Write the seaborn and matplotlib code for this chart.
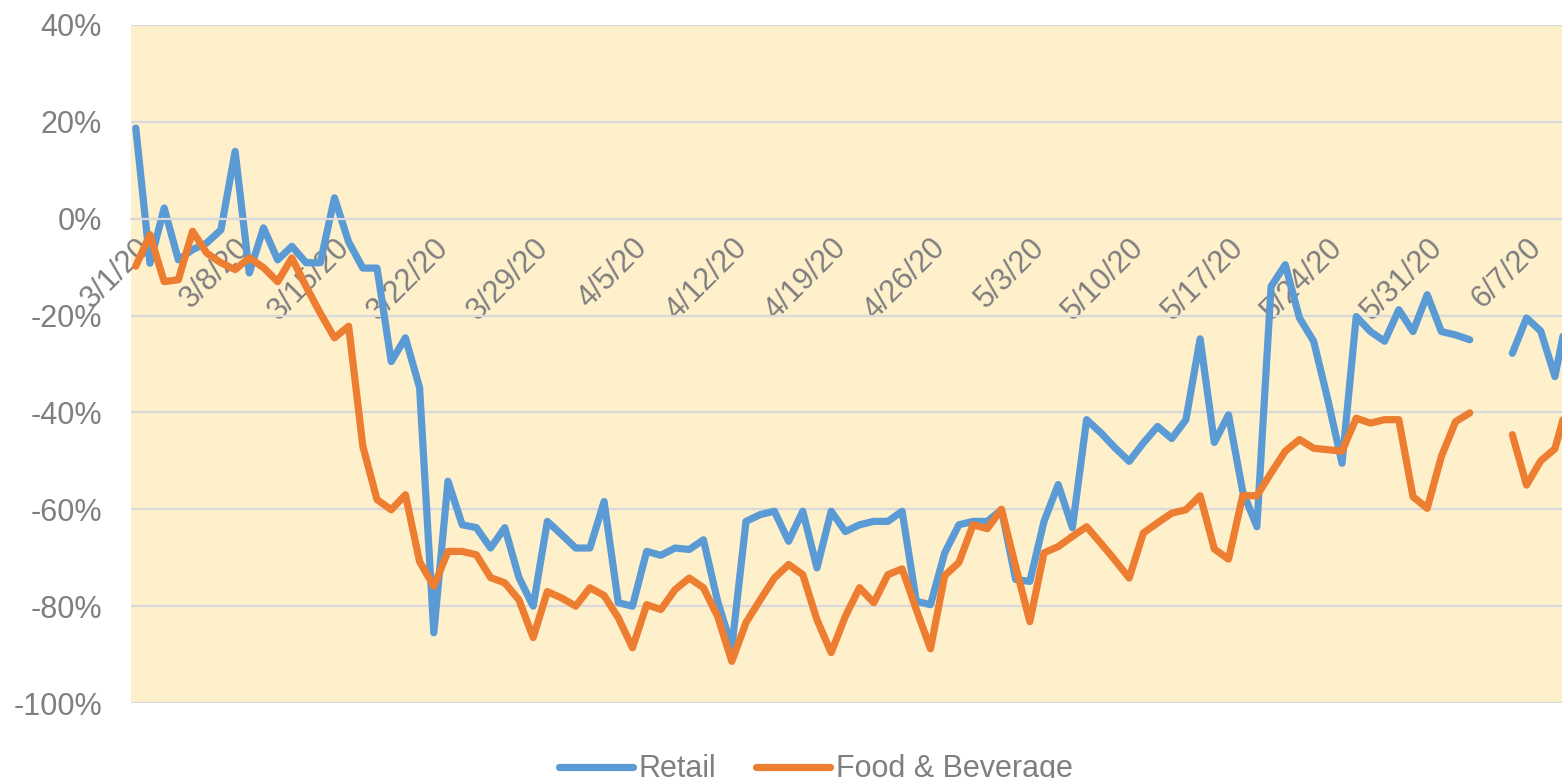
# Retail vs Food & Beverage daily change, Mar-Jun 2020

import numpy as np
import pandas as pd
import matplotlib
matplotlib.use('Agg')
import matplotlib.pyplot as plt
import seaborn as sns


# daily values (%), 3/1/20 onwards; NaN = missing days
retail = [18.7, -9.2, 2.2, -8.5, -6.4, -5.0, -2.3, 13.9, -11.2, -1.9,
          -8.5, -5.7, -9.1, -9.1, 4.3, -4.8, -10.2, -10.2, -29.5, -24.6,
          -34.9, -85.5, -54.2, -63.2, -63.8, -68.0, -63.8, -74.1, -80.0, -62.5,
          -65.2, -68.0, -68.0, -58.4, -79.3, -80.0, -68.7, -69.5, -68.0, -68.3,
          -66.3, -79.0, -88.5, -62.5, -61.1, -60.4, -66.6, -60.4, -72.1, -60.4,
          -64.6, -63.2, -62.5, -62.5, -60.4, -79.0, -79.7, -69.0, -63.2, -62.5,
          -62.5, -60.1, -74.5, -74.9, -62.5, -54.9, -63.8, -41.5, -44.2, -47.3,
          -50.1, -46.3, -42.9, -45.4, -41.5, -24.8, -46.2, -40.5, -56.3, -63.6,
          -14.0, -9.5, -20.5, -25.3, -37.4, -50.5, -20.2, -23.3, -25.3, -18.8,
          -23.3, -15.7, -23.3, -24.0, -25.0, np.nan, np.nan, -27.8, -20.5, -23.2,
          -32.6, -18.0]

food_bev = [-9.8, -3.3, -13.0, -12.6, -2.6, -7.1, -9.1, -10.5, -8.1, -10.1,
            -13.0, -8.1, -14.0, -19.5, -24.6, -22.2, -47.0, -58.0, -60.1, -57.0,
            -70.8, -75.9, -68.7, -68.7, -69.4, -74.1, -75.2, -78.7, -86.5, -77.0,
            -78.3, -80.0, -76.2, -77.8, -82.4, -88.6, -79.7, -80.7, -76.6, -74.2,
            -76.2, -82.1, -91.4, -83.4, -78.7, -74.2, -71.4, -73.5, -82.8, -89.6,
            -82.1, -76.2, -79.3, -73.5, -72.3, -80.7, -88.8, -73.7, -71.0, -63.2,
            -64.0, -60.0, -71.8, -83.2, -69.0, -67.7, -65.6, -63.6, -67.0, -70.5,
            -74.2, -64.9, -62.8, -60.8, -60.1, -57.2, -68.2, -70.3, -57.2, -57.2,
            -52.5, -48.0, -45.6, -47.4, -47.7, -48.0, -41.2, -42.2, -41.5, -41.5,
            -57.4, -59.8, -49.1, -41.9, -40.1, np.nan, np.nan, -44.6, -55.0, -50.0,
            -47.5, -37.0]

dates = pd.date_range('2020-03-01', periods=len(retail), freq='D')
tick_dates = pd.date_range('2020-03-01', '2020-06-07', freq='7D')
tick_labels = [f"{d.month}/{d.day}/20" for d in tick_dates]
y_ticks = [40, 20, 0, -20, -40, -60, -80, -100]
y_labels = ['40%', '20%', '0%', '-20%', '-40%', '-60%', '-80%', '-100%']

series_names = ['Retail', 'Food & Beverage']
colors = {'Retail': '#5B9BD5', 'Food & Beverage': '#ED7D31'}

# long format, with a segment id so gaps stay gaps
frames = []
for name, vals in zip(series_names, [retail, food_bev]):
    s = pd.DataFrame({'date': dates, 'value': vals, 'series': name})
    s['segment'] = name + s['value'].isna().cumsum().astype(str)
    frames.append(s.dropna())
df = pd.concat(frames, ignore_index=True)


sns.set_theme(style='white')
plt.rcParams['font.family'] = ['Liberation Sans', 'DejaVu Sans']

fig = plt.figure(figsize=(15.62, 7.78), dpi=100)
ax = fig.add_axes([0.0839, 0.0964, 0.9161, 0.8715])
ax.set_facecolor('#FFF0CC')

sns.lineplot(data=df, x='date', y='value', hue='series', units='segment',
             estimator=None, palette=colors, hue_order=series_names,
             linewidth=5.2, ax=ax)
for line in ax.lines:
    line.set_solid_joinstyle('round')
    line.set_solid_capstyle('round')

handles, labels = ax.get_legend_handles_labels()
ax.get_legend().remove()
for h in handles:
    h.set_linewidth(5.2)
    h.set_solid_capstyle('round')

ax.set_ylim(-100, 40)
ax.set_xlim(dates[0] - pd.Timedelta(hours=8), dates[0] + pd.Timedelta(days=100.5))

ax.tick_params(axis='y', length=0, pad=21, labelsize=22, labelcolor='#7F7F7F')
ax.tick_params(axis='x', length=7, width=1.5, color='#D9D9D9', direction='out',
               pad=3, labelsize=22, labelcolor='#7F7F7F')

ax.set_yticks(y_ticks)
ax.set_yticklabels(y_labels)
ax.set_xticks(tick_dates)
ax.set_xticklabels(tick_labels)

ax.yaxis.grid(True, color='#D9D9D9', linewidth=1.6)
ax.xaxis.grid(False)
ax.set_axisbelow(True)

for side in ['left', 'right', 'top']:
    ax.spines[side].set_visible(False)
ax.spines['bottom'].set_position(('data', 0))
ax.spines['bottom'].set_color('#D9D9D9')
ax.spines['bottom'].set_linewidth(1.6)

ax.set_xlabel('')
ax.set_ylabel('')

fig.legend(handles, labels, loc='center', bbox_to_anchor=(0.5224, 0.011), ncol=2,
           frameon=False, fontsize=22, handlelength=2.4, handletextpad=0.2,
           columnspacing=1.3, labelcolor='#7F7F7F')

# ticks are created lazily, so rotate the labels after a first draw
fig.canvas.draw()
plt.setp(ax.get_xticklabels(), rotation=45, ha='right', va='top',
         rotation_mode='anchor')

fig.savefig('out.png', dpi=100)
